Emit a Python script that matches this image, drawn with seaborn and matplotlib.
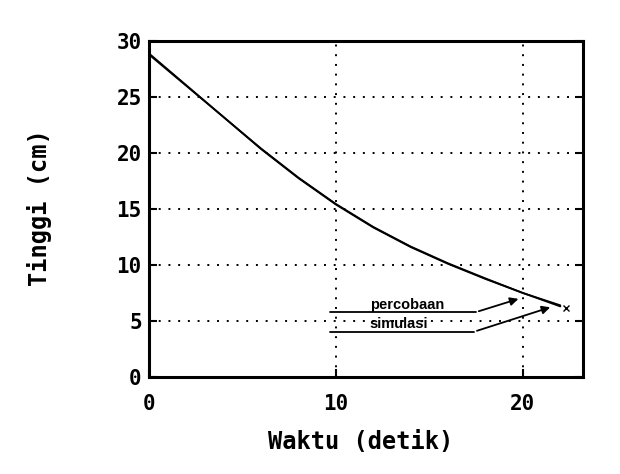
# Tinggi vs waktu: percobaan dan simulasi

import matplotlib
matplotlib.use("Agg")
import matplotlib.pyplot as plt
import numpy as np
import seaborn as sns
import pandas as pd

# %% data
waktu = [0, 2, 4, 6, 8, 10, 12, 14, 16, 18, 20, 22]
tinggi_percobaan = [28.9, 26.05, 23.2, 20.35, 17.75, 15.4, 13.35, 11.6, 10.1, 8.75, 7.5, 6.4]
tinggi_simulasi = [28.8, 26.0, 23.2, 20.4, 17.8, 15.45, 13.4, 11.65, 10.15, 8.8, 7.5, 6.3]
xticks = [0, 10, 20]
yticks = [0, 5, 10, 15, 20, 25, 30]

df = pd.DataFrame({
    "waktu": waktu * 2,
    "tinggi": tinggi_percobaan + tinggi_simulasi,
    "seri": ["percobaan"] * len(waktu) + ["simulasi"] * len(waktu),
})

# %% figure
sns.set_style("white")
plt.rcParams["font.family"] = ["DejaVu Sans Mono", "DejaVu Sans"]

fig = plt.figure(figsize=(6.2, 4.74), dpi=100)
ax = fig.add_axes([0.24, 0.2046, 0.70, 0.709])

sns.lineplot(data=df, x="waktu", y="tinggi", units="seri", estimator=None,
             color="black", linewidth=1.3, ax=ax, legend=False)

ax.set_xlim(0, 23.2)
ax.set_ylim(0, 30)
ax.set_xticks(xticks)
ax.set_yticks(yticks)
ax.grid(True, color="black", linestyle=(0, (1, 4)), linewidth=1.4)
for s in ax.spines.values():
    s.set_color("black")
    s.set_linewidth(2.2)
ax.tick_params(direction="in", length=6, width=1.5, colors="black",
               labelsize=15, right=True, bottom=True, left=True)
ax.tick_params(axis="x", pad=12)
ax.tick_params(axis="y", pad=5)
for lab in ax.get_xticklabels() + ax.get_yticklabels():
    lab.set_fontweight("bold")

ax.set_xlabel("Waktu (detik)", fontsize=17, fontweight="bold", color="black")
ax.set_ylabel("Tinggi (cm)", fontsize=17, fontweight="bold", color="black")
ax.xaxis.set_label_coords(0.489, -0.158)
ax.yaxis.set_label_coords(-0.222, 0.503)

# callouts
label_font = dict(family=["Liberation Sans", "DejaVu Sans"], fontsize=10.5,
                  fontweight="bold", color="black")
ax.plot([9.7, 17.5], [5.8, 5.8], color="black", linewidth=1.3)
ax.annotate("", xy=(19.9, 7.05), xytext=(17.5, 5.8),
            arrowprops=dict(arrowstyle="-|>", color="black", lw=1.3, mutation_scale=12))
ax.text(13.8, 6.1, "percobaan", ha="center", va="baseline", **label_font)

ax.plot([9.7, 17.4], [4.05, 4.05], color="black", linewidth=1.3)
ax.annotate("", xy=(21.6, 6.3), xytext=(17.4, 4.05),
            arrowprops=dict(arrowstyle="-|>", color="black", lw=1.3, mutation_scale=12))
ax.text(13.35, 4.4, "simulasi", ha="center", va="baseline", **label_font)

ax.plot([22.3], [6.2], marker="x", color="black", markersize=4, mew=1)

fig.savefig("out.png", dpi=100)
